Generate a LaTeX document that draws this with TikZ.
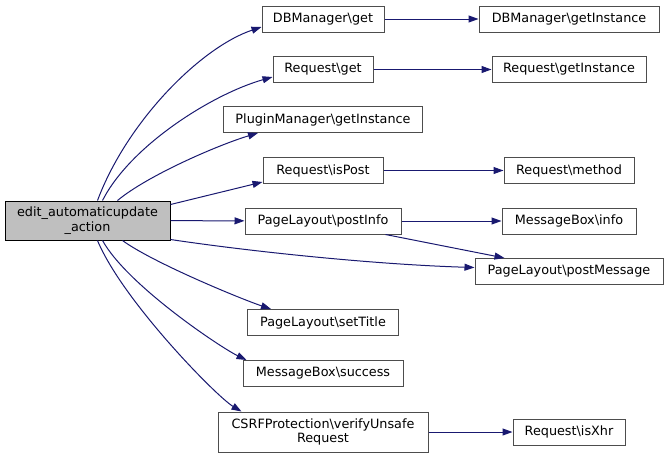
\documentclass[tikz,border=0pt]{standalone}
\usepackage{fontspec}
\setmainfont{DejaVu Sans}
\usetikzlibrary{arrows.meta}
\definecolor{edgeblue}{HTML}{191970}
\definecolor{boxgray}{HTML}{4D4D4D}
\definecolor{rootfill}{HTML}{BFBFBF}
\tikzset{
	box/.style = {draw = boxgray, fill = white, line width = 1pt, minimum height = 26pt, inner sep = 0pt, font = \fontsize{12.8}{14.5}\selectfont, align = center},
	call/.style = {draw = edgeblue, line width = 1pt, -{Triangle[length = 10pt, width = 7pt]}}
}
\newcommand{\bs}{\textbackslash}
\begin{document}
\begin{tikzpicture}[x = 1pt, y = -1pt]
	\useasboundingbox (0, 0) rectangle (668, 458);
	\node[box, draw = black, fill = rootfill, minimum width = 165pt, minimum height = 39pt] (main) at (87.5, 220.5) {edit\_automaticupdate\\\_action};
	% middle column
	\foreach \name/\y/\w/\txt in {dbget/19/122/DBManager\bs get, reqget/69.5/100/Request\bs get, plugin/119.5/199/PluginManager\bs getInstance, ispost/170.5/120/Request\bs isPost, postinfo/221/156/PageLayout\bs postInfo, settitle/322.5/151/PageLayout\bs setTitle, success/373.5/160/MessageBox\bs success}{
		\node[box, minimum width = \w pt] (\name) at (323, \y) {\txt};}
	\node[box, minimum width = 210pt, minimum height = 40pt] (csrf) at (323, 432) {CSRFProtection\bs verifyUnsafe\\Request};
	% right column
	\foreach \name/\y/\w/\txt in {dbinst/19/180/DBManager\bs getInstance, reqinst/69.5/154/Request\bs getInstance, method/170.5/130/Request\bs method, info/221/134/MessageBox\bs info, postmsg/271.5/188/PageLayout\bs postMessage, isxhr/432/112/Request\bs isXhr}{
		\node[box, minimum width = \w pt] (\name) at (569, \y) {\txt};}
	% calls
	\draw[call] ([xshift = 93pt]main.north west) .. controls +(30, -80) and +(-60, 20) .. ([yshift = -8pt]dbget.west);
	\draw[call] ([xshift = 98pt]main.north west) .. controls +(28, -55) and +(-60, 17) .. ([yshift = -7.5pt]reqget.west);
	\draw[call] ([xshift = 113pt]main.north west) .. controls +(30, -25) and +(-40, 12) .. ([xshift = 35pt]plugin.south west);
	\draw[call] ([yshift = -4pt]main.north east) -- ([yshift = 2pt]ispost.south west);
	\draw[call] (main) -- (postinfo);
	\draw[call] ([yshift = 1pt]main.south east) .. controls +(80, 12) and +(-100, -3) .. ([yshift = 4pt]postmsg.west);
	\draw[call] ([xshift = 118pt]main.south west) .. controls +(30, 22) and +(-30, -10) .. ([xshift = 24pt]settitle.north west);
	\draw[call] ([xshift = 98pt]main.south west) .. controls +(25, 45) and +(-25, -12) .. ([xshift = 4pt]success.north west);
	\draw[call] ([xshift = 93pt]main.south west) .. controls +(25, 60) and +(-25, -15) .. ([xshift = 24pt]csrf.north west);
	\draw[call] ([xshift = -16pt]postinfo.south east) -- ([xshift = 30pt]postmsg.north west);
	\foreach \a/\b in {dbget/dbinst, reqget/reqinst, ispost/method, postinfo/info, csrf/isxhr}{
		\draw[call] (\a) -- (\b);}
\end{tikzpicture}
\end{document}
